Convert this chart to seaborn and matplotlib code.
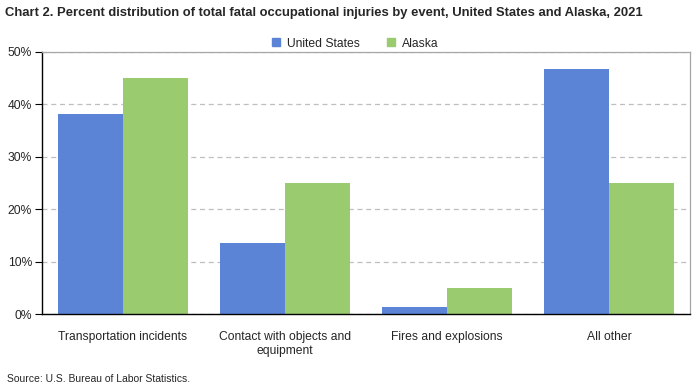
import numpy as np
import pandas as pd
import matplotlib
matplotlib.use("Agg")
import matplotlib.pyplot as plt
import seaborn as sns
from matplotlib.ticker import PercentFormatter

categories = ["Transportation incidents", "Contact with objects and\nequipment",
              "Fires and explosions", "All other"]
us_values = [38.2, 13.6, 1.4, 46.8]
ak_values = [45.0, 25.0, 5.0, 25.0]
series = ["United States", "Alaska"]

df = pd.DataFrame({
    "Event": categories * 2,
    "Percent": us_values + ak_values,
    "Area": [series[0]] * 4 + [series[1]] * 4,
})

sns.set_theme(style="white")
plt.rcParams['font.family'] = ['Liberation Sans', 'DejaVu Sans']

fig = plt.figure(figsize=(6.96, 3.89), dpi=100)
ax = fig.add_axes([0.0599, 0.192, 0.9315, 0.675])

palette = {"United States": "#5B84D6", "Alaska": "#9BCB6F"}
sns.barplot(data=df, x="Event", y="Percent", hue="Area", palette=palette,
            width=0.8, saturation=1, ax=ax, legend=False, linewidth=0)

ax.set_ylim(0, 50)
ax.set_yticks(np.arange(0, 51, 10))
ax.yaxis.set_major_formatter(PercentFormatter(decimals=0))
ax.set_xlabel("")
ax.set_ylabel("")
ax.grid(axis="y", color="#BFBFBF", linestyle=(0, (4, 3)), linewidth=0.9)
ax.set_axisbelow(True)
for s in ["top", "right"]:
    ax.spines[s].set_color("#A6A6A6")
    ax.spines[s].set_linewidth(0.9)
for s in ["left", "bottom"]:
    ax.spines[s].set_color("black")
    ax.spines[s].set_linewidth(1.0)
ax.tick_params(axis="y", left=True, length=5, width=0.8, color="black", labelsize=8.7, pad=2)
ax.tick_params(axis="x", bottom=False, labelsize=8.7, pad=6)

handles = [plt.Line2D([], [], marker="s", linestyle="", markersize=5.5,
                      color=palette[k]) for k in series]
fig.legend(handles, series, loc="center", bbox_to_anchor=(0.505, 0.888), ncol=2,
           frameon=False, fontsize=8.7, handletextpad=-0.1, columnspacing=1.6)

fig.text(0.007, 0.967, "Chart 2. Percent distribution of total fatal occupational injuries by event, United States and Alaska, 2021",
         fontsize=9.4, fontweight="bold", va="center", ha="left")
fig.text(0.01, 0.025, "Source: U.S. Bureau of Labor Statistics.", fontsize=7.5, va="center", ha="left")

fig.savefig("out.png", dpi=100)
